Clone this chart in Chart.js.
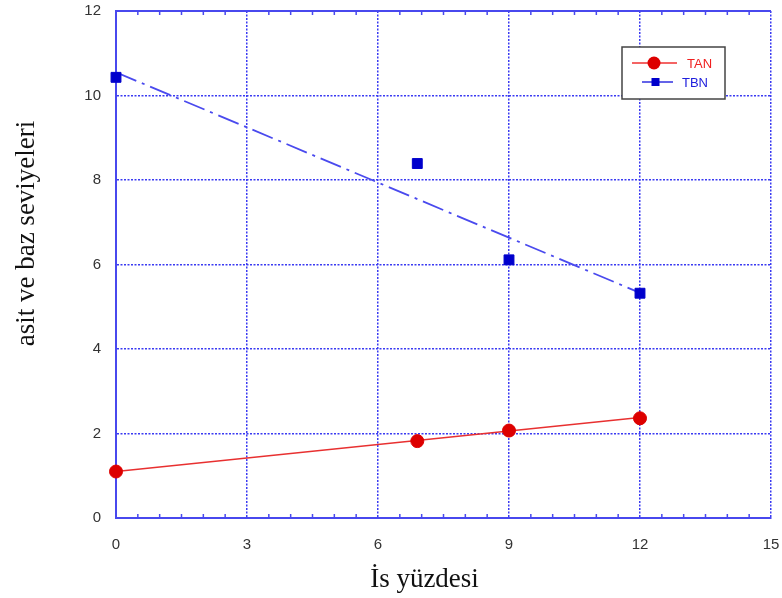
<!DOCTYPE html>
<html>
<head>
<meta charset="utf-8">
<title>TAN / TBN</title>
<script src="https://cdn.jsdelivr.net/npm/chart.js@4"></script>
<style>
  body { margin: 0; background: #fff; }
  #wrap { width: 782px; height: 598px; }
</style>
</head>
<body>
<div id="wrap"><canvas id="chart" width="782" height="598"></canvas></div>
<script>
// measured points
const tanX = [0, 6.9, 9, 12];
const tanY = [1.1, 1.82, 2.07, 2.36];
const tbnX = [0, 6.9, 9, 12];
const tbnY = [10.43, 8.39, 6.11, 5.32];

// trend lines (end points)
const fitX = [0, 12];
const tanFitY = [1.1, 2.38];
const tbnFitY = [10.55, 5.33];

const xTitle = "İs yüzdesi";
const yTitle = "asit ve baz seviyeleri";

const axisBlue = "#4848ee";
const gridBlue = "#3a3af2";
const red = "#dd0000";
const blue = "#0000cc";

const toPoints = (xs, ys) => xs.map((x, i) => ({ x: x, y: ys[i] }));

// solid top frame, small inner ticks every 0.5 on top and bottom, axis titles
const framePlugin = {
  id: "frame",
  beforeDatasetsDraw(chart) {
    const { ctx, chartArea: a, scales } = chart;
    const xs = scales.x;
    ctx.save();
    ctx.strokeStyle = axisBlue;
    ctx.lineWidth = 2;
    ctx.beginPath();
    ctx.moveTo(a.left, a.top);
    ctx.lineTo(a.right, a.top);
    ctx.stroke();
    ctx.lineWidth = 1.5;
    for (let v = 0.5; v < xs.max; v += 0.5) {
      if (v % 3 === 0) continue;
      const px = xs.getPixelForValue(v);
      ctx.beginPath();
      ctx.moveTo(px, a.bottom);
      ctx.lineTo(px, a.bottom - 4);
      ctx.moveTo(px, a.top);
      ctx.lineTo(px, a.top + 4);
      ctx.stroke();
    }
    ctx.restore();
  },
  afterDraw(chart) {
    const { ctx, chartArea: a } = chart;
    ctx.save();
    ctx.fillStyle = "#111";
    ctx.font = "27px 'Liberation Serif', 'Times New Roman', serif";
    ctx.textAlign = "center";
    ctx.textBaseline = "alphabetic";
    ctx.fillText(xTitle, (a.left + a.right) / 2 - 19, a.bottom + 69);
    ctx.translate(34, (a.top + a.bottom) / 2 - 31);
    ctx.rotate(-Math.PI / 2);
    ctx.fillText(yTitle, 0, 0);
    ctx.restore();
  }
};

// boxed legend inside the plot, top right
const legendPlugin = {
  id: "boxLegend",
  afterDraw(chart) {
    const { ctx, chartArea: a } = chart;
    const left = a.right - 149;
    const top = a.top + 36;
    ctx.save();
    ctx.fillStyle = "#fff";
    ctx.fillRect(left, top, 103, 52);
    ctx.strokeStyle = "#444";
    ctx.lineWidth = 1.5;
    ctx.strokeRect(left, top, 103, 52);

    ctx.font = "13px 'Liberation Sans', Arial, sans-serif";
    ctx.textBaseline = "middle";

    // TAN
    ctx.strokeStyle = "#f03030";
    ctx.lineWidth = 1.5;
    ctx.beginPath();
    ctx.moveTo(left + 10, top + 16);
    ctx.lineTo(left + 55, top + 16);
    ctx.stroke();
    ctx.fillStyle = red;
    ctx.beginPath();
    ctx.arc(left + 32, top + 16, 6.5, 0, Math.PI * 2);
    ctx.fill();
    ctx.fillStyle = "#f02020";
    ctx.fillText("TAN", left + 65, top + 17);

    // TBN
    ctx.strokeStyle = "#3030e0";
    ctx.beginPath();
    ctx.moveTo(left + 20, top + 35);
    ctx.lineTo(left + 51, top + 35);
    ctx.stroke();
    ctx.fillStyle = blue;
    ctx.fillRect(left + 29.5, top + 31, 8, 8);
    ctx.fillStyle = "#2020dd";
    ctx.fillText("TBN", left + 60, top + 36);
    ctx.restore();
  }
};

new Chart(document.getElementById("chart"), {
  type: "scatter",
  data: {
    datasets: [
      {
        label: "TAN",
        data: toPoints(tanX, tanY),
        backgroundColor: red,
        borderColor: red,
        pointStyle: "circle",
        pointRadius: 6.5,
        showLine: false,
        clip: false,
        order: 0
      },
      {
        label: "TBN",
        data: toPoints(tbnX, tbnY),
        backgroundColor: blue,
        borderColor: blue,
        pointStyle: "rect",
        pointRadius: 7,
        showLine: false,
        clip: false,
        order: 0
      },
      {
        label: "TAN fit",
        data: toPoints(fitX, tanFitY),
        borderColor: "#e83030",
        borderWidth: 1.5,
        pointRadius: 0,
        showLine: true,
        order: 1
      },
      {
        label: "TBN fit",
        data: toPoints(fitX, tbnFitY),
        borderColor: "#4a4aee",
        borderWidth: 1.8,
        borderDash: [22, 6, 3, 6],
        pointRadius: 0,
        showLine: true,
        order: 1
      }
    ]
  },
  options: {
    responsive: false,
    animation: false,
    layout: { padding: { top: 11, right: 11, left: 0, bottom: 0 } },
    plugins: {
      legend: { display: false },
      tooltip: { enabled: false }
    },
    scales: {
      x: {
        type: "linear",
        min: 0,
        max: 15,
        ticks: {
          stepSize: 3,
          padding: 18,
          color: "#333",
          font: { family: "'Liberation Sans', Arial, sans-serif", size: 15 }
        },
        grid: { color: gridBlue, lineWidth: 1.5, drawTicks: false },
        border: { color: axisBlue, width: 2, dash: [2, 1.5] },
        afterFit: (s) => {
          s.height = 80;
          s.paddingLeft = 0;
          s.paddingRight = 0;
        }
      },
      y: {
        type: "linear",
        min: 0,
        max: 12,
        ticks: {
          stepSize: 2,
          padding: 15,
          color: "#333",
          font: { family: "'Liberation Sans', Arial, sans-serif", size: 15 }
        },
        grid: { color: gridBlue, lineWidth: 1.5, drawTicks: false },
        border: { color: axisBlue, width: 2, dash: [2, 1.5] },
        afterFit: (s) => {
          s.width = 116;
          s.paddingTop = 0;
          s.paddingBottom = 0;
        }
      }
    }
  },
  plugins: [framePlugin, legendPlugin]
});
</script>
</body>
</html>
